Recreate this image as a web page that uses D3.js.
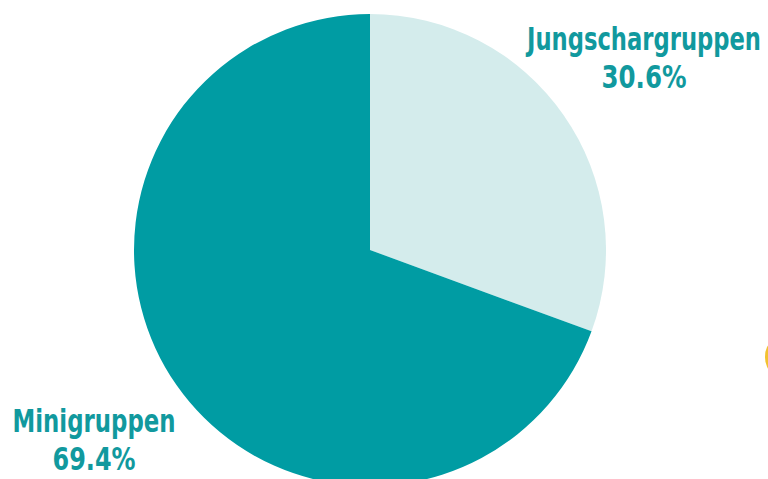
<!DOCTYPE html>
<html>
<head>
<meta charset="utf-8">
<script src="https://cdn.jsdelivr.net/npm/d3@7"></script>
<style>
  body { margin: 0; background: #fff; }
  svg { display: block; }
  .lbl { font-family: "Liberation Sans Narrow", "DejaVu Sans Condensed", "DejaVu Sans", sans-serif; font-weight: bold; font-stretch: condensed; fill: #11999e; }
</style>
</head>
<body>
<svg id="chart" width="768" height="479"></svg>
<script>
// Chart data
var categories = ["Jungschargruppen", "Minigruppen"];
var shares = [30.6, 69.4];
var colors = ["#d4ecec", "#009ca3"];

var svg = d3.select("#chart");
var cx = 370, cy = 250, r = 236;

var pie = d3.pie().sort(null).value(function(d) { return d; });
var arc = d3.arc().innerRadius(0).outerRadius(r);

var g = svg.append("g").attr("transform", "translate(" + cx + "," + cy + ")");
g.selectAll("path")
    .data(pie(shares))
    .enter().append("path")
    .attr("d", arc)
    .attr("fill", function(d, i) { return colors[i]; });

// labels, placed outside the pie (widths squeezed to the condensed look)
var labelPos = [
    {x: 644, y: 50, w: 234, pw: 85},
    {x: 94, y: 432, w: 163, pw: 83},
];
categories.forEach(function(c, i) {
    var p = labelPos[i];
    var t = svg.append("text")
        .attr("class", "lbl")
        .attr("text-anchor", "middle")
        .attr("font-size", 32);
    t.append("tspan").attr("x", p.x).attr("y", p.y)
        .attr("textLength", p.w).attr("lengthAdjust", "spacingAndGlyphs")
        .text(c);
    t.append("tspan").attr("x", p.x).attr("y", p.y + 38)
        .attr("textLength", p.pw).attr("lengthAdjust", "spacingAndGlyphs")
        .text(d3.format(".1f")(shares[i]) + "%");
});

// small yellow decoration at the right edge
svg.append("ellipse")
    .attr("cx", 772).attr("cy", 357)
    .attr("rx", 7).attr("ry", 14)
    .attr("fill", "#f2c230");
</script>
</body>
</html>
